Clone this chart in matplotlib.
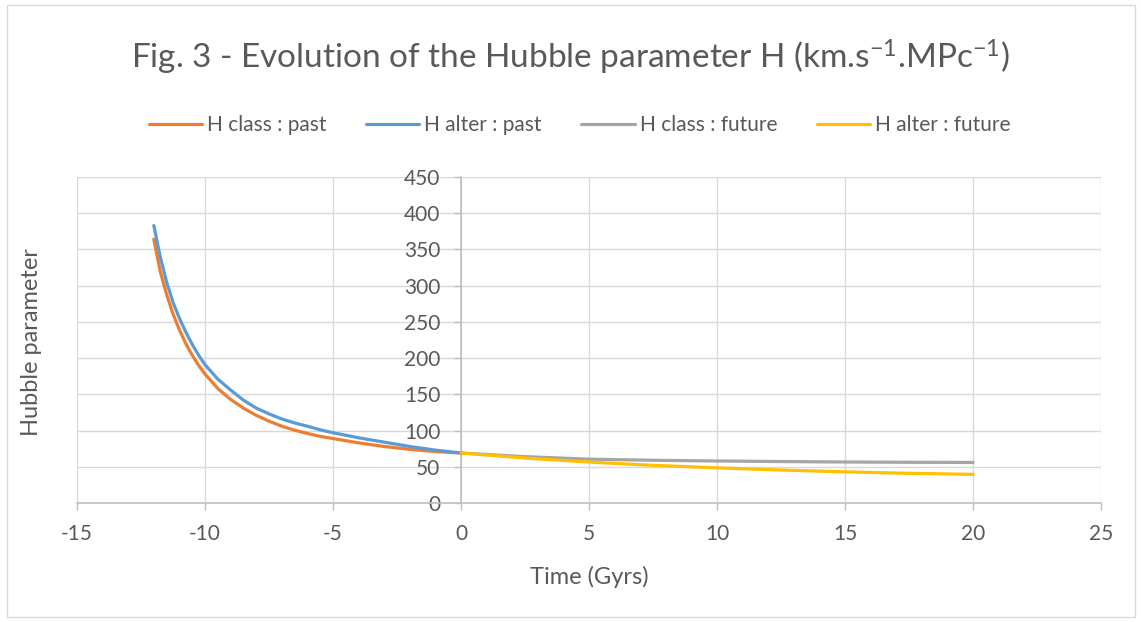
import matplotlib.pyplot as plt
from matplotlib.patches import Rectangle

plt.rcParams['font.family'] = ['Lato', 'DejaVu Sans']
plt.rcParams['mathtext.fontset'] = 'custom'
plt.rcParams['mathtext.rm'] = 'Lato'
plt.rcParams['mathtext.it'] = 'Lato'
plt.rcParams['axes.unicode_minus'] = False

# datos
t_past = [-12, -11.75, -11.5, -11.25, -11, -10.75, -10.5, -10.25, -10, -9.5, -9,
          -8.5, -8, -7.5, -7, -6.5, -6, -5.5, -5, -4, -3, -2, -1, 0]
h_class_past = [364, 320, 288, 261, 239, 220, 204, 190, 178, 158, 143,
                131, 121, 113, 106, 100.5, 96, 92, 89, 83, 78, 74, 71, 69]
h_alter_past = [383, 340, 305, 277, 255, 236, 219, 204, 191, 171, 156,
                142, 131, 123, 116, 110.5, 106, 101, 97, 90, 84, 78, 73, 69]

t_future = [0, 2.5, 5, 7.5, 10, 12.5, 15, 17.5, 20]
h_class_future = [69, 64, 60.5, 59, 58, 57.2, 56.6, 56.2, 56]
h_alter_future = [69, 62, 56.5, 52, 48.5, 45.5, 43, 41, 39.5]

texto = '#595959'
rejilla = '#d9d9d9'

fig = plt.figure(figsize=(11.41, 6.22), dpi=100)
fig.patches.append(Rectangle((7 / 1141, 5 / 622), 1128 / 1141, 612 / 622,
                             transform=fig.transFigure, fill=False,
                             edgecolor='#d9d9d9', linewidth=1))

ax = fig.add_axes([77 / 1141, 1 - 503 / 622, 1024 / 1141, 326 / 622])

ax.plot(t_past, h_class_past, color='#ED7D31', lw=2.3, label='H class : past',
        solid_capstyle='round', zorder=3)
ax.plot(t_past, h_alter_past, color='#5B9BD5', lw=2.3, label='H alter : past',
        solid_capstyle='round', zorder=3)
ax.plot(t_future, h_class_future, color='#A5A5A5', lw=2.3, label='H class : future',
        solid_capstyle='round', zorder=3)
ax.plot(t_future, h_alter_future, color='#FFC000', lw=2.3, label='H alter : future',
        solid_capstyle='round', zorder=3)

ax.set_xlim(-15, 25)
ax.set_ylim(0, 450)
ax.set_xticks(range(-15, 26, 5))
ax.set_yticks(range(0, 451, 50))
ax.grid(True, color=rejilla, linewidth=1)
ax.set_axisbelow(True)

for s in ['top', 'right']:
    ax.spines[s].set_visible(False)
ax.spines['left'].set_position(('data', 0))
ax.spines['left'].set_color('#bfbfbf')
ax.spines['bottom'].set_color('#bfbfbf')
ax.spines['left'].set_linewidth(1.2)
ax.spines['bottom'].set_linewidth(1.2)

ax.tick_params(axis='both', colors='#bfbfbf', labelcolor=texto, labelsize=15,
               length=5, width=1)
ax.tick_params(axis='x', pad=10)
ax.tick_params(axis='y', pad=10)

ax.set_xlabel('Time (Gyrs)', fontsize=17, color=texto, labelpad=16)
fig.text(32 / 1141, 1 - 342 / 622, 'Hubble parameter', rotation=90, fontsize=17,
         color=texto, ha='center', va='center')

fig.text(0.5, 1 - 57 / 622,
         r'Fig. 3 - Evolution of the Hubble parameter H (km.s$^{-1}$.MPc$^{-1}$)',
         fontsize=24, color=texto, ha='center', va='center')

fig.legend(loc='center', bbox_to_anchor=(0.508, 1 - 125 / 622), ncol=4,
           frameon=False, fontsize=15, labelcolor=texto, handlelength=2.55,
           handletextpad=0.25, columnspacing=1.9)

plt.savefig('out.png', dpi=100)
